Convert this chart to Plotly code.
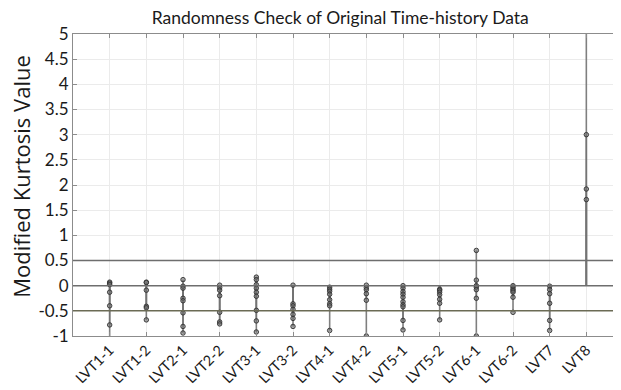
import plotly.graph_objects as go

categories = ["LVT1-1", "LVT1-2", "LVT2-1", "LVT2-2", "LVT3-1", "LVT3-2", "LVT4-1",
              "LVT4-2", "LVT5-1", "LVT5-2", "LVT6-1", "LVT6-2", "LVT7", "LVT8"]

lvt1_1 = [0.07, 0.05, 0.02, -0.13, -0.40, -0.78, -1.2]
lvt1_2 = [0.07, 0.06, -0.09, -0.41, -0.44, -0.68]
lvt2_1 = [0.12, -0.01, -0.05, -0.25, -0.30, -0.54, -0.81, -0.94]
lvt2_2 = [0.01, -0.04, -0.09, -0.20, -0.53, -0.72, -0.76]
lvt3_1 = [0.17, 0.12, 0.02, -0.05, -0.13, -0.21, -0.49, -0.70, -0.92]
lvt3_2 = [0.01, -0.36, -0.40, -0.47, -0.57, -0.65, -0.81]
lvt4_1 = [-0.03, -0.07, -0.11, -0.17, -0.28, -0.36, -0.40, -0.89]
lvt4_2 = [0.01, -0.04, -0.08, -0.16, -0.29, -1.0]
lvt5_1 = [0.0, -0.05, -0.12, -0.17, -0.23, -0.32, -0.38, -0.42, -0.69, -0.88]
lvt5_2 = [-0.07, -0.09, -0.13, -0.18, -0.27, -0.35, -0.68]
lvt6_1 = [0.70, 0.11, 0.0, -0.03, -0.08, -0.25, -1.0]
lvt6_2 = [0.0, -0.03, -0.07, -0.10, -0.13, -0.23, -0.53]
lvt7 = [-0.01, -0.08, -0.16, -0.35, -0.69, -0.89]
lvt8 = [6.5, 3.0, 1.92, 1.71]

series = [lvt1_1, lvt1_2, lvt2_1, lvt2_2, lvt3_1, lvt3_2, lvt4_1,
          lvt4_2, lvt5_1, lvt5_2, lvt6_1, lvt6_2, lvt7, lvt8]

limits = [0.5, 0.0, -0.5]
limit_colors = ["#6e6e6e", "#6e6e6e", "#6b6b55"]

y_ticks = [-1, -0.5, 0, 0.5, 1, 1.5, 2, 2.5, 3, 3.5, 4, 4.5, 5]
y_labels = ["-1", "-0.5", "0", "0.5", "1", "1.5", "2", "2.5", "3", "3.5", "4", "4.5", "5"]

fig = go.Figure()

# stems from baseline 0 to each value
for i, vals in enumerate(series, start=1):
    xs, ys = [], []
    for v in vals:
        xs += [i, i, None]
        ys += [0, v, None]
    fig.add_trace(go.Scatter(x=xs, y=ys, mode="lines",
                             line=dict(color="rgba(115,115,115,0.9)", width=1.6),
                             hoverinfo="skip", showlegend=False))

# limit lines
for lv, lc in zip(limits, limit_colors):
    fig.add_hline(y=lv, line=dict(color=lc, width=1.5), layer="above")

# markers
for i, vals in enumerate(series, start=1):
    fig.add_trace(go.Scatter(x=[i] * len(vals), y=vals, mode="markers",
                             marker=dict(symbol="circle", size=4.5,
                                         color="rgba(110,110,110,0.6)",
                                         line=dict(color="rgba(50,50,50,0.9)", width=1)),
                             showlegend=False))

font_family = "Lato, 'Open Sans', sans-serif"

fig.update_layout(
    width=621, height=390,
    margin=dict(l=65, r=6, t=26, b=62),
    paper_bgcolor="white", plot_bgcolor="white",
    font=dict(family=font_family, color="#1a1a1a"),
    title=dict(text="Randomness Check of Original Time-history Data",
               x=0.535, xanchor="center", y=0.974, yanchor="middle",
               font=dict(size=17.5, family=font_family, color="#1a1a1a")),
    showlegend=False,
)

fig.add_annotation(
    text="Modified Kurtosis Value", textangle=-90,
    xref="paper", yref="paper", x=-0.096, y=0.528,
    xanchor="center", yanchor="middle", showarrow=False,
    font=dict(size=22, family="'Open Sans', sans-serif", color="#1a1a1a"),
)

fig.update_xaxes(
    range=[0, 15], automargin=False,
    tickmode="array", tickvals=list(range(1, len(categories) + 1)), ticktext=categories,
    tickangle=-45, tickfont=dict(size=14.5, family=font_family, color="#1a1a1a"),
    ticklabelstandoff=-1,
    showgrid=True, gridcolor="#ebebeb", gridwidth=1,
    showline=True, linecolor="#8c8c8c", linewidth=1, mirror="ticks",
    ticks="inside", ticklen=4, tickcolor="#8c8c8c",
    zeroline=False,
)
fig.update_yaxes(
    range=[-1, 5], automargin=False,
    tickmode="array", tickvals=y_ticks, ticktext=y_labels,
    tickfont=dict(size=17, family=font_family, color="#1a1a1a"),
    showgrid=True, gridcolor="#ebebeb", gridwidth=1,
    showline=True, linecolor="#8c8c8c", linewidth=1, mirror="ticks",
    ticks="inside", ticklen=4, tickcolor="#8c8c8c",
    zeroline=False,
)

fig.write_html("out.html")
